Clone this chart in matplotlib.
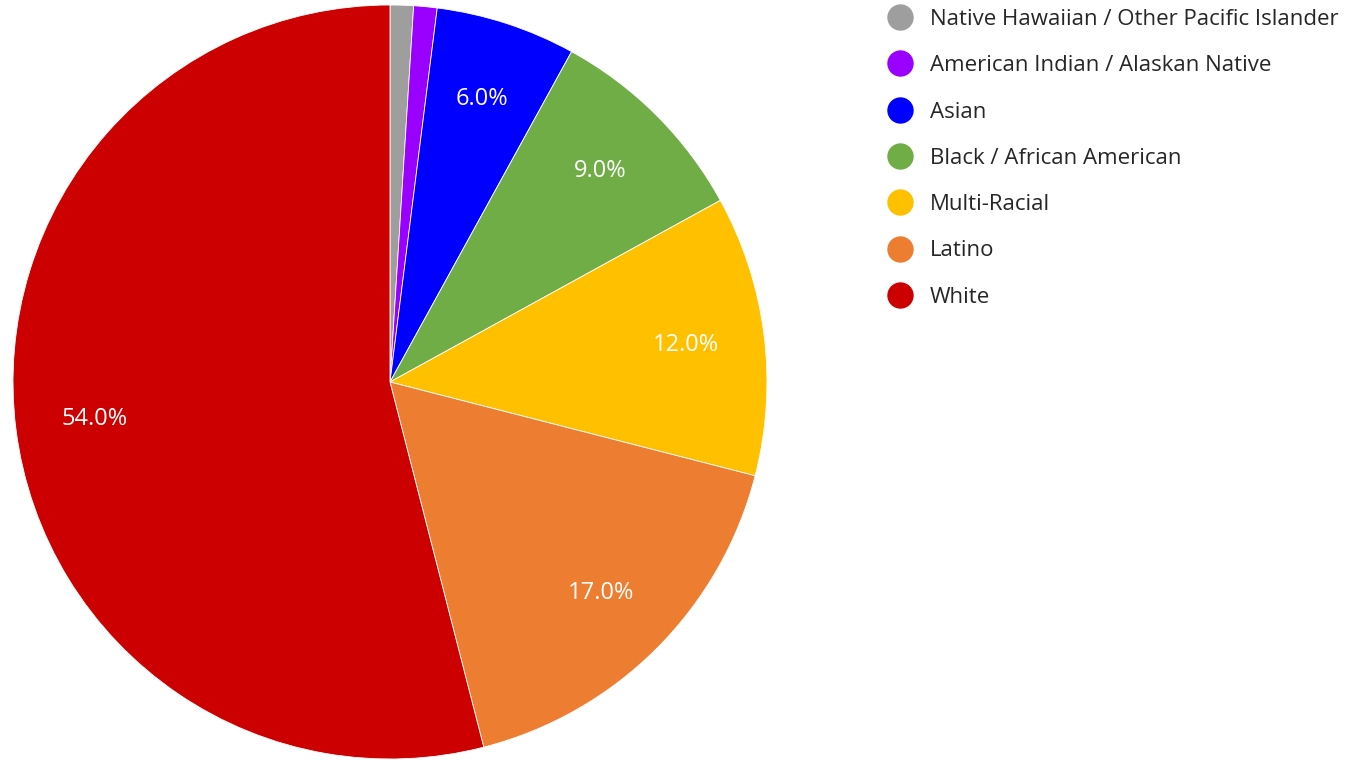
import matplotlib.pyplot as plt
from matplotlib.lines import Line2D

plt.rcParams['font.family'] = ['Open Sans', 'DejaVu Sans']

groups = ["Native Hawaiian / Other Pacific Islander", "American Indian / Alaskan Native",
          "Asian", "Black / African American", "Multi-Racial", "Latino", "White"]
shares = [1.0, 1.0, 6.0, 9.0, 12.0, 17.0, 54.0]
colors = ["#9e9e9e", "#9900ff", "#0000ff", "#70ad47", "#ffc000", "#ed7d31", "#cc0000"]

W, H = 1362, 760
fig = plt.figure(figsize=(W / 100, H / 100), dpi=100)

# pie centre ~ (390, 382) px, radius ~377 px
cx, cy, r = 390, 382, 377
ax = fig.add_axes([(cx - r) / W, (H - cy - r) / H, 2 * r / W, 2 * r / H])


def fmt(p):
    return f"{p:.1f}%" if p >= 5 else ""


wedges, _, autotexts = ax.pie(shares, colors=colors, startangle=90, counterclock=False,
                              autopct=fmt, pctdistance=0.79,
                              wedgeprops=dict(edgecolor="white", linewidth=0.6),
                              textprops=dict(color="white", fontsize=17))
ax.set_xlim(-1, 1)
ax.set_ylim(-1, 1)
ax.set_aspect("equal")
ax.axis("off")

# legend on the right, drawn row by row
row0, step = 17, 46.3
for i, (g, c) in enumerate(zip(groups, colors)):
    y = 1 - (row0 + step * i) / H
    fig.add_artist(Line2D([900 / W], [y], marker="o", linestyle="", markersize=18,
                          markerfacecolor=c, markeredgecolor=c, transform=fig.transFigure))
    fig.text(930 / W, y, g, fontsize=16, color="#262626", va="center_baseline", ha="left")

fig.savefig("out.png", dpi=100)
